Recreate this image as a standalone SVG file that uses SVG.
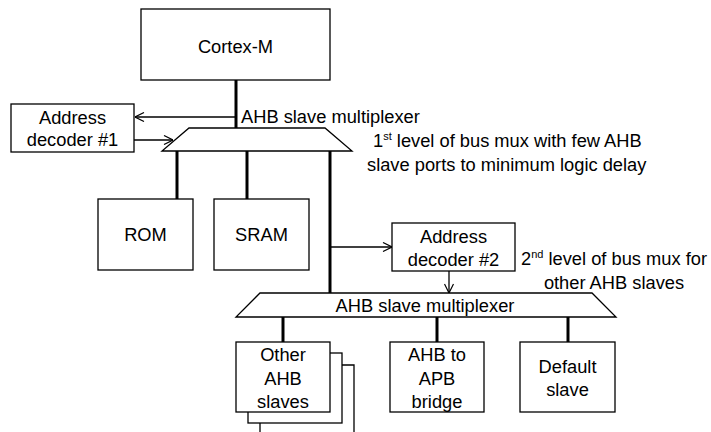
<svg xmlns="http://www.w3.org/2000/svg" width="711" height="432" viewBox="0 0 711 432">
<defs>
<style>
.box{fill:#fff;stroke:#000;stroke-width:1.3}
.bus{stroke:#000;stroke-width:3;fill:none}
.wire{stroke:#000;stroke-width:1.3;fill:none}
text{font-family:"Liberation Sans",Arial,sans-serif;font-size:18.3px;fill:#000}
.c{text-anchor:middle}
</style>
<marker id="arr" viewBox="0 0 10 10" refX="10" refY="5" markerWidth="10" markerHeight="10" markerUnits="userSpaceOnUse" orient="auto">
<path d="M1,0.5 L10,5 L1,9.5" fill="none" stroke="#000" stroke-width="1.2"/>
</marker>
</defs>
<rect width="711" height="432" fill="#fff"/>
<g id="connectors">
<line class="bus" x1="236" y1="80" x2="236" y2="128"/>
<line class="wire" x1="236" y1="117" x2="135" y2="117" marker-end="url(#arr)"/>
<line class="wire" x1="134" y1="140" x2="173" y2="140" marker-end="url(#arr)"/>
<line class="bus" x1="177" y1="151" x2="177" y2="199"/>
<line class="bus" x1="247" y1="151" x2="247" y2="199"/>
<line class="bus" x1="330" y1="151" x2="330" y2="294"/>
<line class="wire" x1="330" y1="247" x2="392" y2="247" marker-end="url(#arr)"/>
<line class="wire" x1="449" y1="271" x2="449" y2="293" marker-end="url(#arr)"/>
<line class="bus" x1="283" y1="317" x2="283" y2="342"/>
<line class="bus" x1="437" y1="317" x2="437" y2="342"/>
<line class="bus" x1="568" y1="317" x2="568" y2="342"/>
</g>
<g id="cortex-m">
<rect class="box" x="141" y="9" width="189" height="71"/>
<text class="c" x="235.5" y="53">Cortex-M</text>
</g>
<g id="address-decoder-1">
<rect class="box" x="11" y="104" width="123" height="48"/>
<text class="c" x="72.5" y="124">Address</text>
<text class="c" x="72.5" y="146">decoder #1</text>
</g>
<g id="mux-1">
<path class="box" d="M189,128 L325,128 L352,151 L162,151 Z"/>
<text x="241" y="123">AHB slave multiplexer</text>
</g>
<g id="note-1">
<text x="373" y="147">1<tspan font-size="11" dy="-7">st</tspan><tspan dy="7"> level of bus mux with few AHB</tspan></text>
<text x="367" y="171">slave ports to minimum logic delay</text>
</g>
<g id="rom">
<rect class="box" x="98" y="199" width="95" height="71"/>
<text class="c" x="145.5" y="241">ROM</text>
</g>
<g id="sram">
<rect class="box" x="214" y="199" width="95" height="71"/>
<text class="c" x="261.5" y="241">SRAM</text>
</g>
<g id="address-decoder-2">
<rect class="box" x="392" y="223" width="123" height="48"/>
<text class="c" x="453.5" y="243">Address</text>
<text class="c" x="453.5" y="266">decoder #2</text>
</g>
<g id="note-2">
<text x="521" y="265">2<tspan font-size="11" dy="-7">nd</tspan><tspan dy="7"> level of bus mux for</tspan></text>
<text class="c" x="614" y="289">other AHB slaves</text>
</g>
<g id="mux-2">
<path class="box" d="M260,293 L592,293 L616,317 L236,317 Z"/>
<text class="c" x="425" y="312">AHB slave multiplexer</text>
</g>
<g id="other-ahb-slaves">
<path class="wire" d="M260,433 L260,365 L354,365 L354,433"/>
<rect class="box" x="248" y="353" width="94" height="70"/>
<rect class="box" x="236" y="342" width="94" height="70"/>
<text class="c" x="283" y="361">Other</text>
<text class="c" x="283" y="385">AHB</text>
<text class="c" x="283" y="408">slaves</text>
</g>
<g id="ahb-to-apb-bridge">
<rect class="box" x="390" y="342" width="94" height="70"/>
<text class="c" x="437" y="361">AHB to</text>
<text class="c" x="437" y="385">APB</text>
<text class="c" x="437" y="408">bridge</text>
</g>
<g id="default-slave">
<rect class="box" x="520" y="342" width="95" height="70"/>
<text class="c" x="567.5" y="373">Default</text>
<text class="c" x="567.5" y="396">slave</text>
</g>
</svg>
